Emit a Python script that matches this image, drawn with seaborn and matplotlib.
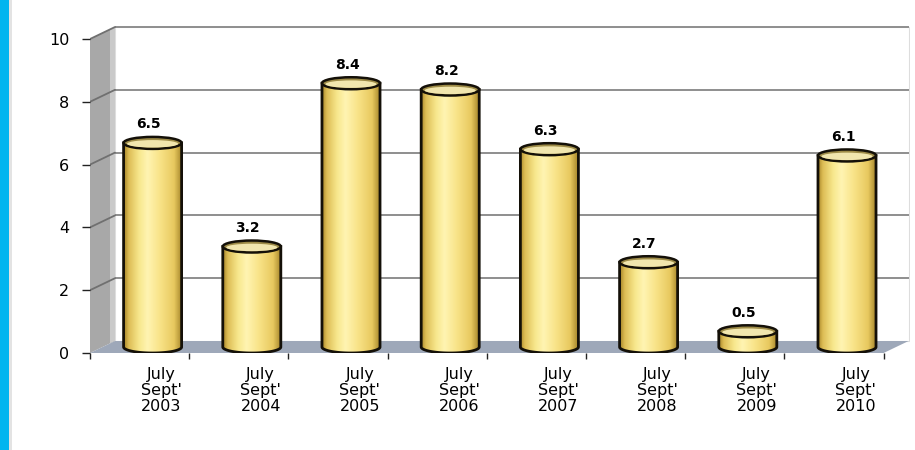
import numpy as np
import pandas as pd
import matplotlib
matplotlib.use("Agg")
import matplotlib.pyplot as plt
import seaborn as sns
from matplotlib.patches import Polygon, Ellipse, Rectangle, PathPatch
from matplotlib.path import Path
from matplotlib.colors import LinearSegmentedColormap

# ---- data ----
periods = ["July\nSept'\n2003", "July\nSept'\n2004", "July\nSept'\n2005", "July\nSept'\n2006",
           "July\nSept'\n2007", "July\nSept'\n2008", "July\nSept'\n2009", "July\nSept'\n2010"]
values = [6.5, 3.2, 8.4, 8.2, 6.3, 2.7, 0.5, 6.1]
value_labels = ["6.5", "3.2", "8.4", "8.2", "6.3", "2.7", "0.5", "6.1"]
y_ticks = [0, 2, 4, 6, 8, 10]

df = pd.DataFrame({"period": periods, "value": values})

# ---- style ----
sns.set_theme(style="white")
plt.rcParams['font.family'] = ['DejaVu Sans']

# ---- 3D frame geometry (px based) ----
PX_CAT = 99.2
PX_UNIT = 31.4
SHIFT = 13 / PX_CAT
DX = 25 / PX_CAT
DY = 12 / PX_UNIT
RY = DY / 2
n = len(periods)
x0 = -0.5 - SHIFT
x1 = n - 0.5 - SHIFT
ytop = max(y_ticks)

fig = plt.figure(figsize=(9.15, 4.5), dpi=100)
fig.patch.set_facecolor("white")
fig.patches.append(Rectangle((0, 0), 9 / 915, 1, transform=fig.transFigure,
                             facecolor="#00B5EF", edgecolor="none"))
fig.patches.append(Rectangle((9 / 915, 0), 3 / 915, 1, transform=fig.transFigure,
                             facecolor="#E3E3E3", edgecolor="none"))

ax = fig.add_axes([90 / 915, 97 / 450, 820 / 915, 327 / 450])
ax.set_facecolor("none")

# walls
ax.add_patch(Rectangle((x0 + DX, DY), x1 - x0, ytop, facecolor="white",
                       edgecolor="#DDDDDD", lw=0.8, zorder=0))
ax.add_patch(Polygon([(x0, 0), (x0 + DX, DY), (x0 + DX, ytop + DY), (x0, ytop)],
                     closed=True, facecolor="#A8A8A8", edgecolor="none", zorder=0.2))
ax.add_patch(Polygon([(x0 + DX * 0.8, DY * 0.8), (x0 + DX, DY), (x0 + DX, ytop + DY),
                      (x0 + DX * 0.8, ytop + DY * 0.8)],
                     closed=True, facecolor="#C9C9C9", edgecolor="none", zorder=0.25))
# gridlines
for v in y_ticks[1:]:
    ax.plot([x0 + DX, x1 + DX], [v + DY, v + DY], color="#8E8E8E", lw=1.4, zorder=0.5,
            solid_capstyle="butt")
    ax.plot([x0, x0 + DX], [v, v + DY], color="#707070", lw=1.3, zorder=0.5)
# floor
ax.add_patch(Polygon([(x0, 0), (x1, 0), (x1 + DX, DY), (x0 + DX, DY)], closed=True,
                     facecolor="#9EA8B9", edgecolor="none", zorder=0.6))

# ---- bars via seaborn ----
sns.barplot(data=df, x="period", y="value", ax=ax, width=0.585, bottom=RY,
            color="#F5DE7A", saturation=1, linewidth=0, zorder=3)

cyl_cmap = LinearSegmentedColormap.from_list(
    "cyl", [(0.0, "#A8862A"), (0.08, "#DDBD55"), (0.26, "#F8E88E"), (0.4, "#FFF4B2"),
            (0.6, "#F9E48A"), (0.85, "#E8C95F"), (1.0, "#9E7E24")])
grad = np.linspace(0, 1, 256).reshape(1, -1)

bars = [p for p in ax.patches if isinstance(p, Rectangle) and p.get_zorder() == 3]
for bar, lab in zip(bars, value_labels):
    xl = bar.get_x()
    w = bar.get_width()
    xr = xl + w
    xc = xl + w / 2
    yb = bar.get_y()
    yt = yb + bar.get_height()
    t = np.linspace(np.pi, 2 * np.pi, 60)
    arc = np.column_stack([xc + (w / 2) * np.cos(t), yb + RY * np.sin(t)])
    verts = np.vstack([[xl, yt], [xl, yb], arc, [xr, yb], [xr, yt], [xl, yt]])
    codes = [Path.MOVETO] + [Path.LINETO] * (len(verts) - 2) + [Path.CLOSEPOLY]
    body = PathPatch(Path(verts, codes), facecolor="none", edgecolor="none", zorder=3.1)
    ax.add_patch(body)
    im = ax.imshow(grad, cmap=cyl_cmap, extent=(xl, xr, yb - RY, yt), aspect="auto",
                   zorder=3.1, interpolation="bilinear")
    im.set_clip_path(body)
    outline = PathPatch(Path(verts, codes), facecolor="none", edgecolor="#141008",
                        lw=2.0, zorder=3.2)
    ax.add_patch(outline)
    ax.add_patch(Ellipse((xc, yt), w, 2 * RY, facecolor="#9E8C48", edgecolor="#141008",
                         lw=1.8, zorder=3.3))
    ax.add_patch(Ellipse((xc, yt - RY * 0.15), w * 0.88, 2 * RY * 0.62,
                         facecolor="#F1E6AE", edgecolor="none", zorder=3.35))
    ax.text(xc - 0.04, yt + RY + 0.18, lab, ha="center", va="bottom", fontsize=10,
            fontweight="bold", color="black", zorder=4)

# ---- axes ----
ax.set_xlim(x0, x0 + 820 / PX_CAT)
ax.set_ylim(0, 327 / PX_UNIT)
for s in ax.spines.values():
    s.set_visible(False)
ax.set_xlabel("")
ax.set_ylabel("")
ax.set_yticks(y_ticks)
ax.set_yticklabels([str(v) for v in y_ticks])
ax.set_xticks(np.arange(n) + 0.09)
ax.set_xticklabels(periods, linespacing=1.08)
ax.set_xticks(np.arange(n + 1) - 0.5 - SHIFT, minor=True)
ax.tick_params(axis="y", left=True, length=5.8, width=1, color="#222222", pad=9,
               labelsize=11.5, labelcolor="black")
ax.tick_params(axis="x", which="major", bottom=True, length=0, pad=10, labelsize=11.5,
               labelcolor="black")
ax.tick_params(axis="x", which="minor", bottom=True, length=4, width=1, color="#222222")
ax.grid(False)

fig.savefig("out.png", dpi=100, facecolor="white")
